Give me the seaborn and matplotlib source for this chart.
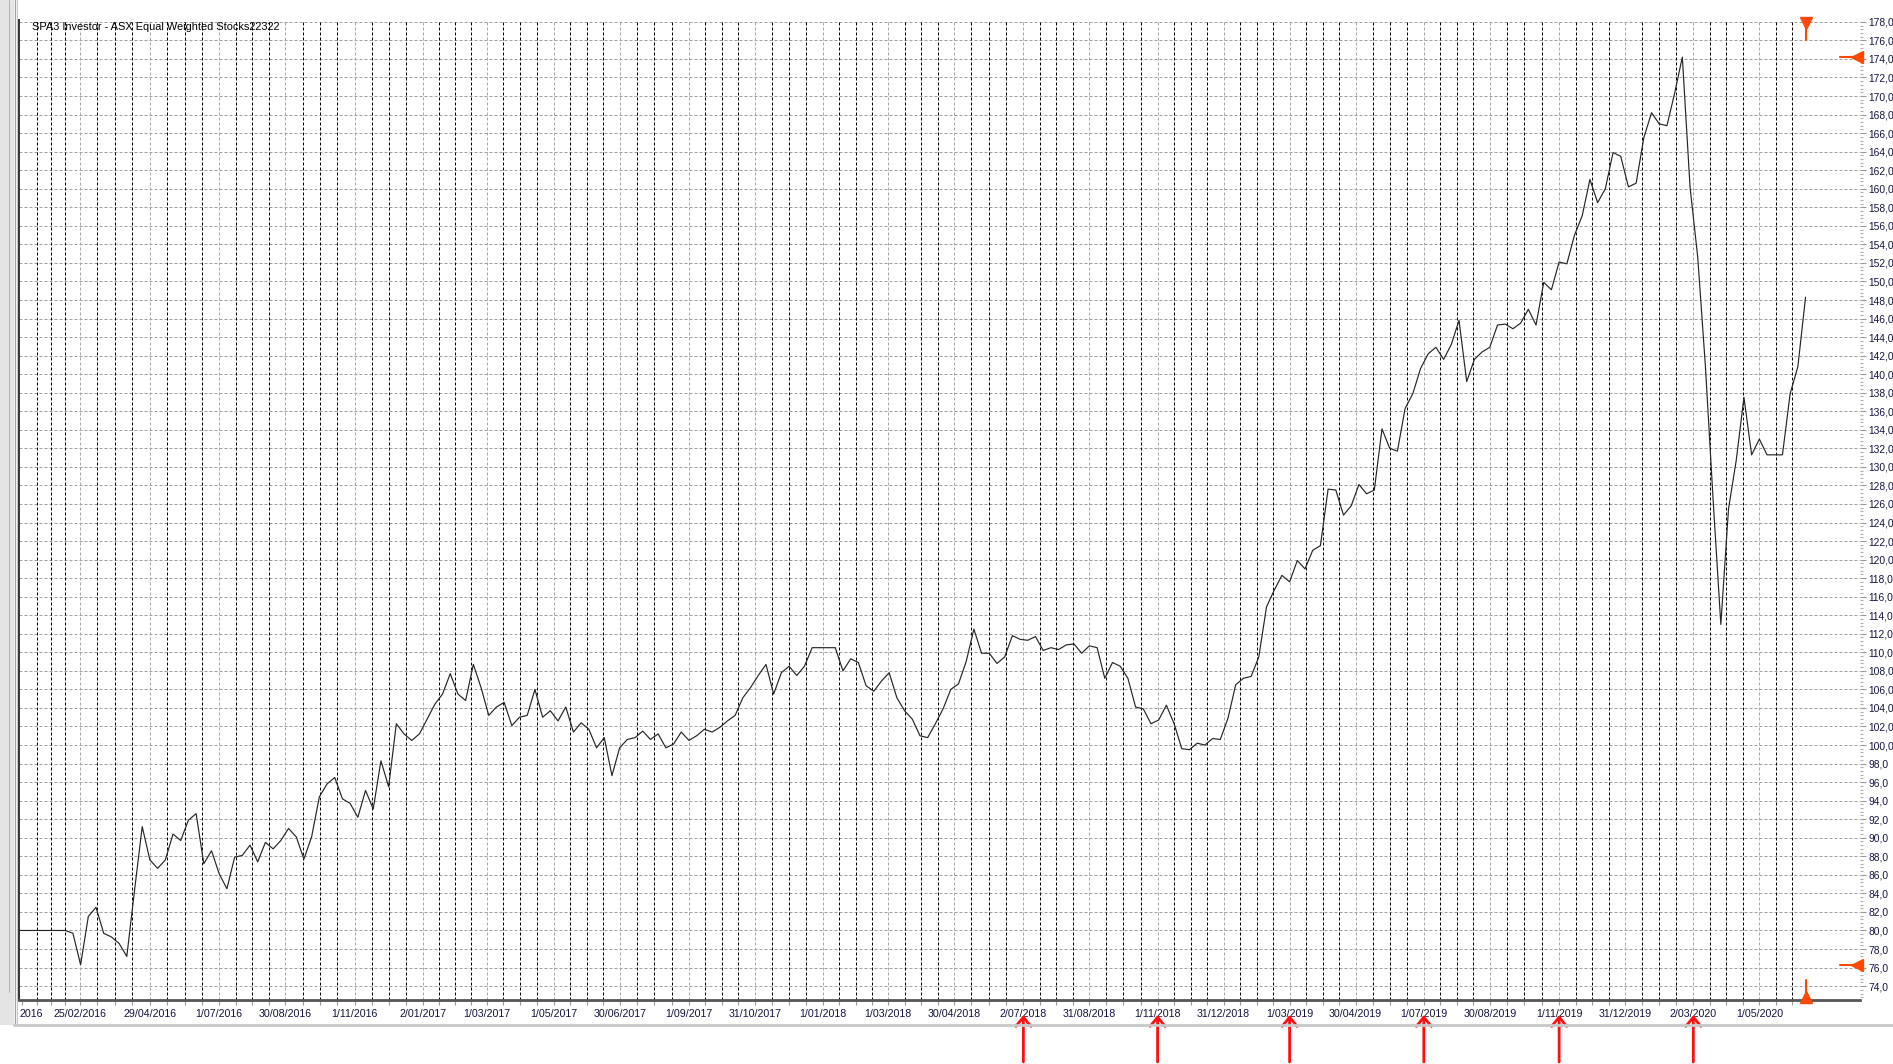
import numpy as np
import pandas as pd
import matplotlib
matplotlib.use("Agg")
import matplotlib.pyplot as plt
import matplotlib.ticker as mticker
import matplotlib.dates as mdates
import matplotlib.transforms as mtransforms
from matplotlib.patches import Rectangle
from matplotlib.lines import Line2D
import seaborn as sns

# ---------------- data ----------------
title_text = "SPA3 Investor - ASX Equal Weighted Stocks22322"
start_date = "2016-01-01"          # first weekly reading
index_values = [
    80.0, 80.0, 80.0, 80.0, 80.0, 80.0, 80.0, 79.7, 76.3, 81.5,
    82.5, 79.7, 79.3, 78.6, 77.2, 84.3, 91.2, 87.6, 86.7, 87.6,
    90.4, 89.7, 91.9, 92.6, 87.2, 88.6, 86.1, 84.5, 87.9, 88.1,
    89.2, 87.4, 89.5, 88.8, 89.7, 91.0, 90.1, 87.7, 90.1, 94.4,
    95.8, 96.5, 94.2, 93.7, 92.2, 95.1, 93.1, 98.3, 95.5, 102.3,
    101.2, 100.5, 101.2, 102.8, 104.4, 105.5, 107.7, 105.5, 104.8, 108.7,
    106.2, 103.2, 104.1, 104.6, 102.1, 103.0, 103.2, 106.0, 103.0, 103.7,
    102.6, 104.1, 101.4, 102.4, 101.7, 99.7, 100.8, 96.7, 99.7, 100.6,
    100.8, 101.5, 100.6, 101.2, 99.7, 100.1, 101.4, 100.5, 101.0, 101.7,
    101.4, 101.9, 102.6, 103.2, 105.1, 106.2, 107.5, 108.7, 105.5, 107.8,
    108.5, 107.5, 108.5, 110.5, 110.5, 110.5, 110.5, 108.0, 109.3, 108.9,
    106.4, 105.8, 106.9, 107.8, 105.1, 103.7, 102.8, 101.0, 100.8, 102.3,
    103.9, 106.0, 106.6, 109.0, 112.5, 109.9, 109.9, 108.8, 109.5, 111.8,
    111.4, 111.3, 111.7, 110.2, 110.5, 110.3, 110.8, 110.9, 109.9, 110.7,
    110.5, 107.2, 108.9, 108.5, 107.2, 104.1, 103.9, 102.3, 102.7, 104.3,
    102.3, 99.6, 99.5, 100.2, 100.0, 100.7, 100.6, 102.9, 106.5, 107.2,
    107.4, 109.5, 114.9, 116.7, 118.3, 117.6, 119.9, 119.0, 121.0, 121.5,
    127.6, 127.5, 124.8, 125.8, 128.1, 127.1, 127.5, 134.1, 132.0, 131.7,
    136.3, 137.9, 140.6, 142.2, 142.9, 141.6, 143.2, 145.8, 139.2, 141.6,
    142.4, 142.9, 145.3, 145.4, 144.9, 145.5, 147.0, 145.3, 149.9, 149.1,
    152.1, 151.9, 155.0, 157.1, 161.0, 158.5, 160.0, 163.9, 163.5, 160.2,
    160.6, 165.5, 168.2, 167.0, 166.8, 170.3, 174.2, 160.2, 152.6, 140.8,
    126.4, 113.0, 125.5, 130.7, 137.5, 131.3, 133.0, 131.3, 131.3, 131.3,
    137.9, 140.8, 148.3,
]
tick_dates = [
    "2016-01-04", "2016-02-25", "2016-04-29", "2016-07-01", "2016-08-30",
    "2016-11-01", "2017-01-02", "2017-03-01", "2017-05-01", "2017-06-30",
    "2017-09-01", "2017-10-31", "2018-01-01", "2018-03-01", "2018-04-30",
    "2018-07-02", "2018-08-31", "2018-11-01", "2018-12-31", "2019-03-01",
    "2019-04-30", "2019-07-01", "2019-08-30", "2019-11-01", "2019-12-31",
    "2020-03-02", "2020-05-01",
]
tick_labels = [
    "2016", "25/02/2016", "29/04/2016", "1/07/2016", "30/08/2016",
    "1/11/2016", "2/01/2017", "1/03/2017", "1/05/2017", "30/06/2017",
    "1/09/2017", "31/10/2017", "1/01/2018", "1/03/2018", "30/04/2018",
    "2/07/2018", "31/08/2018", "1/11/2018", "31/12/2018", "1/03/2019",
    "30/04/2019", "1/07/2019", "30/08/2019", "1/11/2019", "31/12/2019",
    "2/03/2020", "1/05/2020",
]
arrow_dates = ["2018-07-02", "2018-11-01", "2019-03-01",
               "2019-07-01", "2019-11-01", "2020-03-02"]
y_ticks = list(range(74, 179, 2))
x_limits = ("2016-01-01", "2020-07-31 12:00")
y_limits = (72.5, 178.2)

# ---------------- style ----------------
sns.set_theme(style="white")
plt.rcParams["font.family"] = ["Liberation Sans", "DejaVu Sans"]
FS = 7.7
LABEL_COLOR = "#141440"
ORANGE = "#ff4800"
PX = 0.72  # one pixel in points at 100 dpi

W, H = 1893, 1064
fig = plt.figure(figsize=(W / 100, H / 100), dpi=100)
fig.patch.set_facecolor("white")
L, R, T, B = 19, 1860, 20, 1000
ax = fig.add_axes([L / W, 1 - B / H, (R - L) / W, (B - T) / H])
ax.set_facecolor("white")

dates = pd.date_range(start_date, periods=len(index_values), freq="7D")
df = pd.DataFrame({"date": dates, "value": index_values})

# grid lines
major = pd.to_datetime(tick_dates)
minor = []
for a, b in zip(major[:-1], major[1:]):
    step = (b - a) / 4
    minor += [a + step * k for k in (1, 2, 3)]
step = (major[-1] - major[-2]) / 4
minor += [major[-1] + step * k for k in (1, 2, 3)]
minor = [m for m in minor if m <= dates[-1]]

for yv in y_ticks:
    ax.axhline(yv, color="#a0a0a0", lw=PX, ls=(0, (3, 2)), zorder=1)
for m in minor:
    ax.axvline(m, color="black", lw=PX, ls=(0, (3, 2)), zorder=1.2)
for m in major[1:]:
    ax.axvline(m, color="#a8a8a8", lw=PX, ls=(0, (3, 2)), zorder=1.1)

sns.lineplot(data=df, x="date", y="value", ax=ax, color="#262626",
             linewidth=0.85, zorder=3)

ax.set_xlim(pd.Timestamp(x_limits[0]), pd.Timestamp(x_limits[1]))
ax.set_ylim(*y_limits)
ax.set_xlabel("")
ax.set_ylabel("")

# axes ticks
ax.set_xticks(major)
ax.set_xticklabels(tick_labels, fontsize=FS, color=LABEL_COLOR)
ax.set_xticks(minor, minor=True)
ax.tick_params(axis="x", which="both", bottom=True, direction="out",
               length=3.5, width=0.8, color="#9a9a9a", pad=3)
# first label is the visible tail of a clipped date: shift it right a little
first_lbl = ax.get_xticklabels()[0]
first_lbl.set_transform(first_lbl.get_transform() +
                        mtransforms.ScaledTranslation(9 / 100, 0, fig.dpi_scale_trans))

ax.yaxis.tick_right()
ax.set_yticks(y_ticks)
ax.set_yticklabels([f"{v},0" for v in y_ticks], fontsize=7.4, color=LABEL_COLOR)
ax.yaxis.set_minor_locator(mticker.AutoMinorLocator(5))
ax.tick_params(axis="y", which="major", right=True, left=False, direction="out",
               length=4, width=0.8, color="#9a9a9a", pad=2)
ax.tick_params(axis="y", which="minor", right=True, left=False, direction="out",
               length=2.5, width=0.8, color="#b0b0b0")

for s in ("top", "right"):
    ax.spines[s].set_visible(False)
ax.spines["bottom"].set_color("#555555")
ax.spines["bottom"].set_linewidth(2.0)
ax.spines["left"].set_color("#333333")
ax.spines["left"].set_linewidth(1.4)

# title inside plot
ax.text(13 / (R - L), (B - 27) / (B - T), title_text, transform=ax.transAxes,
        fontsize=7.9, color="black", va="center", ha="left", zorder=4)

# orange markers: last date (top/bottom) and extremes (right)
xt = ax.get_xaxis_transform()
yt = ax.get_yaxis_transform()
last_num = mdates.date2num(dates[-1])
vmax, vmin = max(index_values), min(index_values)
ax.plot([last_num, last_num], [(B - 24) / (B - T), (B - 40) / (B - T)], transform=xt,
        color=ORANGE, lw=1.5, clip_on=False, zorder=6)
ax.plot([last_num], [(B - 23) / (B - T)], transform=xt, marker="v", ms=8,
        color=ORANGE, clip_on=False, zorder=6)
ax.plot([last_num, last_num], [4 / (B - T), 20 / (B - T)], transform=xt,
        color=ORANGE, lw=1.5, clip_on=False, zorder=6)
ax.plot([last_num], [3 / (B - T)], transform=xt, marker="^", ms=8,
        color=ORANGE, clip_on=False, zorder=6)
for v in (vmax, vmin):
    ax.plot([(1840 - L) / (R - L), (1856 - L) / (R - L)], [v, v], transform=yt,
            color=ORANGE, lw=1.5, clip_on=False, zorder=6)
    ax.plot([(1857 - L) / (R - L)], [v], transform=yt, marker="<", ms=8,
            color=ORANGE, clip_on=False, zorder=6)

# red hand-drawn style arrows under the date axis
for d in arrow_dates:
    dn = mdates.date2num(pd.Timestamp(d))
    ax.annotate("", xy=(dn, -15 / (B - T)), xytext=(dn, -62 / (B - T)),
                xycoords=xt, textcoords=xt, annotation_clip=False,
                arrowprops=dict(arrowstyle="->,head_length=0.55,head_width=0.45",
                                color="#ff1010", lw=2.0, shrinkA=0, shrinkB=0),
                zorder=7)

# window chrome on the left and bottom separator
fig.add_artist(Rectangle((0, 1 - 1025 / H), 14 / W, 1025 / H,
                         transform=fig.transFigure, facecolor="#e4e4e4",
                         edgecolor="none", zorder=10))
fig.add_artist(Rectangle((14 / W, 1 - 1025 / H), 3 / W, 1025 / H,
                         transform=fig.transFigure, facecolor="#f0f0f0",
                         edgecolor="none", zorder=10))
fig.add_artist(Line2D([9 / W, 9 / W], [1 - 992 / H, 1], transform=fig.transFigure,
                      color="#b4b4b4", lw=PX, zorder=11))
fig.add_artist(Line2D([14.5 / W, 14.5 / W], [1 - 1025 / H, 1], transform=fig.transFigure,
                      color="#a0a0a0", lw=PX, zorder=11))
fig.add_artist(Line2D([16.5 / W, 16.5 / W], [1 - 1025 / H, 1], transform=fig.transFigure,
                      color="#c8c8c8", lw=PX, zorder=11))
fig.add_artist(Line2D([14 / W, 1], [1 - 1025 / H, 1 - 1025 / H], transform=fig.transFigure,
                      color="#c8c8c8", lw=2.0, zorder=11))

fig.savefig("out.png", dpi=100, facecolor="white")
